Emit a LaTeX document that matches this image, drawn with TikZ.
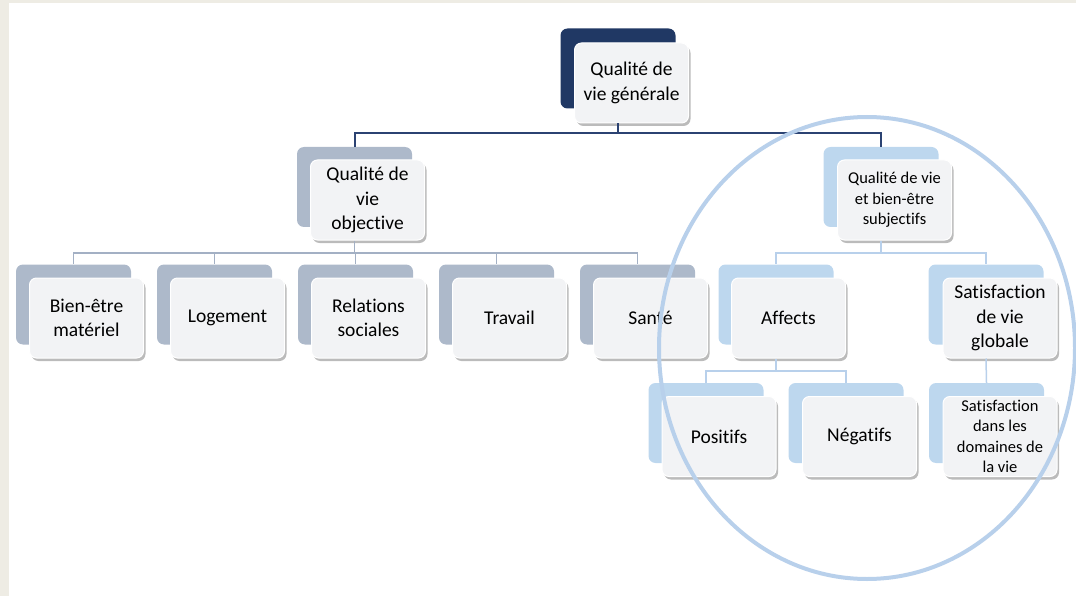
\documentclass[tikz,border=0pt]{standalone}
\usepackage{fontspec}
\setmainfont{Carlito}[Ligatures={NoCommon}]
\usetikzlibrary{shadows}
\definecolor{navy}{HTML}{203864}
\definecolor{navyline}{HTML}{2B4272}
\definecolor{greyblue}{HTML}{ADB9CA}
\definecolor{greyline}{HTML}{A3B0C4}
\definecolor{lightblue}{HTML}{BDD7EE}
\definecolor{blueline}{HTML}{B8D0EB}
\definecolor{frontfill}{HTML}{F2F3F5}
\definecolor{beige}{HTML}{EEECE4}

\begin{document}
\begin{tikzpicture}[x=1pt,y=-1pt,
  back/.style={rounded corners=7pt,minimum width=115pt,minimum height=80pt,inner sep=0pt},
  front/.style={rounded corners=7pt,fill=frontfill,draw=white,line width=1pt,
    minimum width=114pt,minimum height=80pt,inner sep=0pt,align=center,
    font=\fontsize{19.5}{24.5}\selectfont,
    drop shadow={shadow xshift=2pt,shadow yshift=-3pt,opacity=0.38,fill=black!70}},
  small/.style={font=\fontsize{16.5}{20.5}\selectfont},
  topline/.style={navyline,line width=2pt},
  objline/.style={greyline,line width=1.5pt},
  subline/.style={blueline,line width=1.5pt}]

\useasboundingbox (0,0) rectangle (1076,596);
% page edge
\fill[beige] (0,0) rectangle (9,596);
\fill[beige] (0,0) rectangle (1076,3);

% top
\node[back,fill=navy] (btop) at (618,68.5) {};
\node[front] (top) at (631.5,83) {Qualité de\\vie générale};

% objective branch
\node[back,fill=greyblue] (bobj) at (354.5,187) {};
\node[front] (obj) at (367.5,200) {Qualité de\\vie\\objective};

\node[back,fill=greyblue] (bmat) at (73.5,304.5) {};
\node[front] (mat) at (86.5,318) {Bien-être\\matériel};
\node[back,fill=greyblue] (blog) at (214.5,304.5) {};
\node[front] (log) at (227.5,318) {Logement};
\node[back,fill=greyblue] (brel) at (355.5,304.5) {};
\node[front] (rel) at (368.5,318) {Relations\\sociales};
\node[back,fill=greyblue] (btrav) at (496.5,304.5) {};
\node[front] (trav) at (509.5,318) {Travail};
\node[back,fill=greyblue] (bsan) at (637.5,304.5) {};
\node[front] (san) at (650.5,318) {Santé};

% subjective branch
\node[back,fill=lightblue] (bsub) at (881,187) {};
\node[front,small] (sub) at (894.5,200) {Qualité de vie\\et bien-être\\subjectifs};

\node[back,fill=lightblue] (baff) at (776,304.5) {};
\node[front] (aff) at (788.5,318) {Affects};
\node[back,fill=lightblue] (bglo) at (986,304.5) {};
\node[front] (glo) at (1000,318) {Satisfaction\\de vie\\globale};

\node[back,fill=lightblue] (bpos) at (706,423) {};
\node[front] (pos) at (719,436.5) {Positifs};
\node[back,fill=lightblue] (bneg) at (846,423) {};
\node[front] (neg) at (859.5,436.5) {Négatifs};
\node[back,fill=lightblue] (bdom) at (986.5,423) {};
\node[front,small] (dom) at (1000,436.5) {Satisfaction\\dans les\\domaines de\\la vie};

% level 1 lines
\coordinate (j1) at (618,133);
\draw[topline] (btop.center |- top.south) -- (j1) -| (bobj.north);
\draw[topline] (j1) -| (bsub.north);

% objective lines
\coordinate (j2) at (354.5,253);
\draw[objline] (bobj.center |- obj.south) -- (j2);
\foreach \n in {mat,log,rel,trav,san}
  \draw[objline] (j2) -| (b\n.north);

% subjective lines
\coordinate (j3) at (881,253);
\draw[subline] (bsub.center |- sub.south) -- (j3) -| (baff.north);
\draw[subline] (j3) -| (bglo.north);
\coordinate (j4) at (776,371);
\draw[subline] (baff.center |- aff.south) -- (j4) -| (bpos.north);
\draw[subline] (j4) -| (bneg.north);
\draw[subline] (bglo.center |- glo.south) -- (bdom.north);

% circle round the subjective part
\draw[blueline,line width=4pt] (867,348) ellipse [x radius=208pt,y radius=231pt];

\end{tikzpicture}
\end{document}
